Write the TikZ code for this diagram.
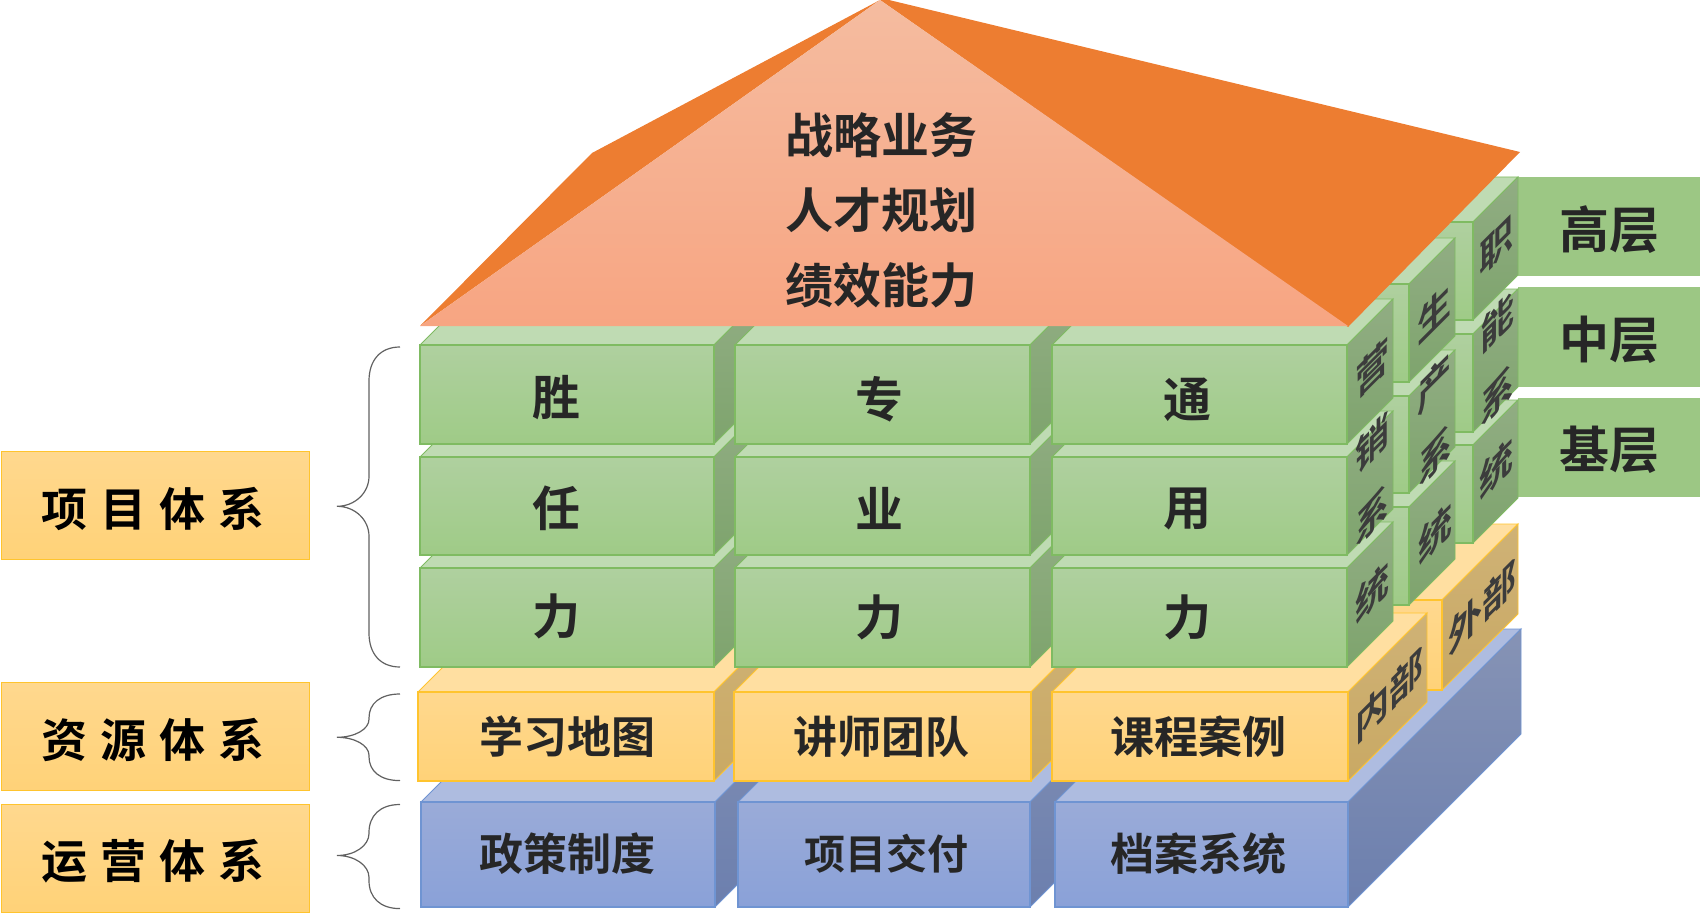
\documentclass[tikz,border=0pt]{standalone}
\usepackage{fontspec}
\setmainfont{Noto Sans CJK SC}[BoldFont=* Bold]
\definecolor{txt}{HTML}{262626}
\definecolor{gE}{HTML}{7FBB62}\definecolor{gT}{HTML}{BFDBB3}\definecolor{gFa}{HTML}{AFD09F}\definecolor{gFb}{HTML}{9FCB87}\definecolor{gSa}{HTML}{91AD83}\definecolor{gSb}{HTML}{7EA46D}
\definecolor{yE}{HTML}{FFC42E}\definecolor{yT}{HTML}{FFDFA1}\definecolor{yFa}{HTML}{FFD88E}\definecolor{yFb}{HTML}{FFD278}\definecolor{ySa}{HTML}{CFB276}\definecolor{ySb}{HTML}{C9A964}
\definecolor{bE}{HTML}{6F94D2}\definecolor{bT}{HTML}{AEBCE0}\definecolor{bFa}{HTML}{9AABD8}\definecolor{bFb}{HTML}{8AA1D8}\definecolor{bSa}{HTML}{8693B5}\definecolor{bSb}{HTML}{6C7FAE}
\definecolor{roofO}{HTML}{ED7D31}\definecolor{roofA}{HTML}{F5BCA0}\definecolor{roofB}{HTML}{F7A582}
\tikzset{
  gtop/.style={fill=gT,draw=gE,line width=0.9pt},
  gside/.style={top color=gSa,bottom color=gSb,draw=gE,line width=0.9pt},
  gfront/.style={top color=gFa,bottom color=gFb,draw=gE,line width=1.2pt},
  ytop/.style={fill=yT,draw=yE,line width=0.9pt},
  yside/.style={top color=ySa,bottom color=ySb,draw=yE,line width=0.9pt},
  yfront/.style={top color=yFa,bottom color=yFb,draw=yE,line width=1.2pt},
  btop/.style={fill=bT,draw=bE,line width=0.9pt},
  bside/.style={top color=bSa,bottom color=bSb,draw=bE,line width=0.9pt},
  bfront/.style={top color=bFa,bottom color=bFb,draw=bE,line width=1.2pt},
  facetext/.style={inner sep=0pt,text=txt,font=\bfseries\fontsize{44}{48}\selectfont},
  narrowtext/.style={inner sep=0pt,text=txt,font=\bfseries\fontsize{41}{46}\selectfont},
  bigtext/.style={inner sep=0pt,text=txt,font=\bfseries\fontsize{48}{52}\selectfont},
  sidetext/.style={inner sep=0pt,text=txt!90!white,font=\bfseries\fontsize{40}{42}\selectfont,transform shape},
  leftbox/.style={minimum width=308pt,minimum height=108pt,inner sep=0pt,top color=yFa,bottom color=yFb,draw=yE,line width=0.9pt,text=black,font=\bfseries\fontsize{46}{48}\selectfont},
  rightbox/.style={minimum width=182pt,minimum height=99pt,inner sep=0pt,fill=gFb!98!black,text=txt,font=\bfseries\fontsize{50}{52}\selectfont},
  bracket/.style={draw=black!62,line width=1.2pt},
}
% #1 colour prefix, #2 left x, #3 right x, #4 top y, #5 bottom y, #6 depth
\newcommand{\cubeblock}[6]{%
  \path[#1top] (#2,-#4) -- ++(#6,#6) -- (#3+#6,-#4+#6) -- (#3,-#4) -- cycle;
  \path[#1side] (#3,-#4) -- ++(#6,#6) -- (#3+#6,-#5+#6) -- (#3,-#5) -- cycle;
  \path[#1front] (#2,-#4) rectangle (#3,-#5);
}
% #1 name, #2 front right x, #3 clip top y, #4 clip bottom y, #5 depth, #6 centre x, #7 centre y, #8 text
\newcommand{\sidech}[8]{%
  \begin{scope}
    \clip (#2,-#3) -- (#2,-#4) -- (#2+#5,-#4+#5) -- (#2+#5,-#3+#5) -- cycle;
    \begin{scope}[shift={(#6,-#7)},cm={.85,.85,0,1,(0,0)}]
      \node[sidetext] (#1) at (0,0) {#8};
    \end{scope}
  \end{scope}
}
% #1 top y, #2 tip y, #3 bottom y, #4 upper radius, #5 lower radius
\newcommand{\bracecurve}[5]{%
  \draw[bracket] (400,-#1) .. controls (380,-#1) and (369,-#1-#4*.4) .. (369,-#1-#4)
    -- (369,-#2+#5) .. controls (369,-#2+#5*.45) and (355,-#2) .. (337,-#2)
    .. controls (355,-#2) and (369,-#2-#5*.45) .. (369,-#2-#5)
    -- (369,-#3+#4) .. controls (369,-#3+#4*.4) and (380,-#3) .. (400,-#3);
}
\newcommand{\leftlabel}[4]{\raisebox{-3.3pt}[\height][\depth]{\hspace{-4pt}#1\hspace{13pt}#2\hspace{13pt}#3\hspace{13pt}#4}}
\newcommand{\rightlabel}[1]{\raisebox{-2.7pt}[\height][\depth]{#1}}
\begin{document}
\begin{tikzpicture}[x=1pt,y=1pt]
\useasboundingbox (0,0) rectangle (1700,-920);
% left labels
\node[leftbox] (lab1) at (155,-505.7) {\leftlabel{项}{目}{体}{系}};
\node[leftbox] (lab2) at (155,-736.7) {\leftlabel{资}{源}{体}{系}};
\node[leftbox] (lab3) at (155,-858.2) {\leftlabel{运}{营}{体}{系}};
% braces
\bracecurve{347}{506.3}{667}{34}{30}
\bracecurve{694}{737.3}{780.6}{24}{18}
\bracecurve{804.5}{855.5}{908.6}{28}{22}
% right labels
\node[rightbox] (hi) at (1609,-226.5) {\rightlabel{高层}};
\node[rightbox,minimum height=100pt] (mi) at (1609,-337) {\rightlabel{中层}};
\node[rightbox] (lo) at (1609,-447.5) {\rightlabel{基层}};
% blue base
\cubeblock{b}{421}{715}{802}{907}{173}
\cubeblock{b}{738}{1030}{802}{907}{173}
\cubeblock{b}{1055}{1348}{802}{907}{173}
% rear yellow
\cubeblock{y}{1300}{1442}{600}{690}{76}
% rear green column
\cubeblock{g}{1420}{1473}{445}{543}{45}
\cubeblock{g}{1420}{1473}{334}{432}{45}
\cubeblock{g}{1420}{1473}{222}{320}{45}
% middle green column
\cubeblock{g}{1360}{1409}{507}{605}{46}
\cubeblock{g}{1360}{1409}{396}{493}{46}
\cubeblock{g}{1360}{1409}{284}{382}{46}
% front yellow
\cubeblock{y}{418}{714}{692}{781}{79}
\cubeblock{y}{734}{1031}{692}{781}{79}
\cubeblock{y}{1052}{1348}{692}{781}{79}
% front green
\cubeblock{g}{420}{714}{568}{667}{46}
\cubeblock{g}{420}{714}{457}{555}{46}
\cubeblock{g}{420}{714}{345}{444}{46}
\cubeblock{g}{735}{1030}{568}{667}{46}
\cubeblock{g}{735}{1030}{457}{555}{46}
\cubeblock{g}{735}{1030}{345}{444}{46}
\cubeblock{g}{1052}{1347}{568}{667}{46}
\cubeblock{g}{1052}{1347}{457}{555}{46}
\cubeblock{g}{1052}{1347}{345}{444}{46}
% side lettering
\sidech{sa}{1347}{345}{444}{46}{1372}{368}{营}
\sidech{sb}{1347}{444}{568}{46}{1372}{443}{销}
\sidech{sc}{1347}{444}{568}{46}{1372}{515}{系}
\sidech{sd}{1347}{568}{667}{46}{1372}{592}{统}
\sidech{ma}{1409}{284}{382}{46}{1434}{313}{生}
\sidech{mb}{1409}{382}{507}{46}{1434}{383}{产}
\sidech{mc}{1409}{382}{507}{46}{1435}{455}{系}
\sidech{md}{1409}{507}{605}{46}{1435}{533}{统}
\sidech{ra}{1473}{222}{320}{45}{1496}{246}{职}
\sidech{rb}{1473}{320}{445}{45}{1497}{322}{能}
\sidech{rc}{1473}{320}{445}{45}{1497}{395}{系}
\sidech{rd}{1473}{445}{543}{45}{1496}{468}{统}
\sidech{ya}{1348}{692}{781}{79}{1389}{695}{内部}
\sidech{yb}{1442}{600}{690}{76}{1482}{607}{外部}
% front lettering
\node[bigtext] (g11) at (556,-398) {胜};
\node[bigtext] (g21) at (556,-508) {任};
\node[bigtext] (g31) at (556,-616) {力};
\node[bigtext] (g12) at (879,-399) {专};
\node[bigtext] (g22) at (879,-508) {业};
\node[bigtext] (g32) at (879,-617) {力};
\node[bigtext] (g13) at (1187,-400) {通};
\node[bigtext] (g23) at (1187,-509) {用};
\node[bigtext] (g33) at (1187,-617) {力};
\node[facetext] (y1) at (567,-737) {学习地图};
\node[facetext] (y2) at (881,-737) {讲师团队};
\node[facetext] (y3) at (1198,-737) {课程案例};
\node[facetext] (b1) at (567,-854) {政策制度};
\node[narrowtext] (b2) at (886,-854) {项目交付};
\node[facetext] (b3) at (1198,-854) {档案系统};
% roof
\fill[roofO] (880,0) -- (592,-153) -- (420,-326) -- cycle;
\fill[roofO] (880,0) -- (889,0) -- (1520,-152) -- (1348,-327) -- cycle;
\path[top color=roofA,bottom color=roofB] (880,0) -- (420,-326) -- (1348,-326) -- cycle;
\node[bigtext] (r1) at (881,-135) {战略业务};
\node[bigtext] (r2) at (881,-210) {人才规划};
\node[bigtext] (r3) at (881,-285) {绩效能力};
\end{tikzpicture}
\end{document}
